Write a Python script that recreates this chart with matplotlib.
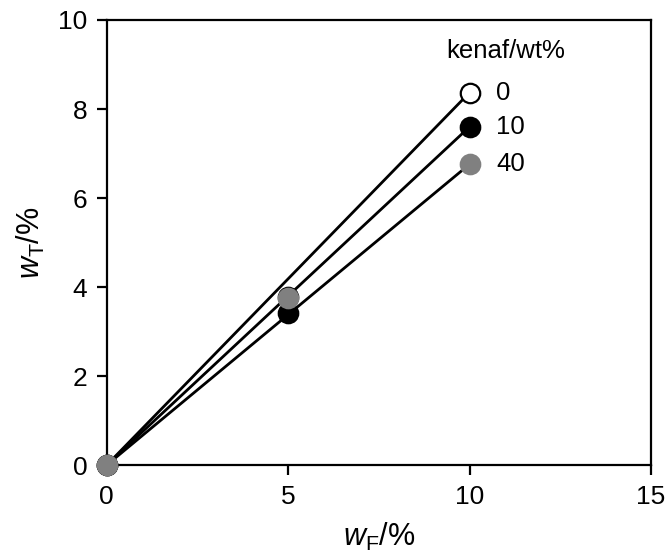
import numpy as np
import matplotlib.pyplot as plt

plt.rcParams['font.family'] = ['Liberation Sans', 'DejaVu Sans']
plt.rcParams['mathtext.fontset'] = 'custom'
plt.rcParams['mathtext.rm'] = 'Liberation Sans'
plt.rcParams['mathtext.it'] = 'Liberation Sans:italic'

# Fibre content w_F and resulting w_T for each kenaf loading
wF = [0, 5, 10]
kenaf = ['0', '10', '40']
wT_0 = [0, 3.78, 8.37]
wT_10 = [0, 3.42, 7.60]
wT_40 = [0, 3.75, 6.76]

series = [wT_0, wT_10, wT_40]
faces = ['white', 'black', 'grey']

fig = plt.figure(figsize=(6.67, 5.55), dpi=100)
ax = fig.add_subplot()
fig.subplots_adjust(left=0.160, right=0.976, top=0.964, bottom=0.162)

# straight lines from the origin to the 10 % point
for wT in series:
    ax.plot([wF[0], wF[-1]], [wT[0], wT[-1]], color='black', lw=2.0, zorder=2)

for wT, fc, lab in zip(series, faces, kenaf):
    ax.plot(wF, wT, 'o', ms=14, mfc=fc, mec='black' if fc != 'grey' else 'grey',
            mew=1.6, zorder=3, clip_on=False)
    ax.annotate(lab, (wF[-1], wT[-1]), xytext=(19, 0), textcoords='offset points',
                va='center', ha='left', fontsize=18.5)

ax.text(11.0, 9.3, 'kenaf/wt%', ha='center', va='center', fontsize=18.5)

ax.set_xlim(0, 15)
ax.set_ylim(0, 10)
ax.set_xticks([0, 5, 10, 15])
ax.set_yticks([0, 2, 4, 6, 8, 10])
ax.tick_params(direction='out', length=7, width=1.6, labelsize=19, pad=7)
for s in ax.spines.values():
    s.set_linewidth(1.6)

ax.set_xlabel(r'$w_{\mathrm{F}}$/%', fontsize=22, labelpad=9)
ax.set_ylabel(r'$w_{\mathrm{T}}$/%', fontsize=22, labelpad=8)

fig.savefig('out.png', dpi=100)
